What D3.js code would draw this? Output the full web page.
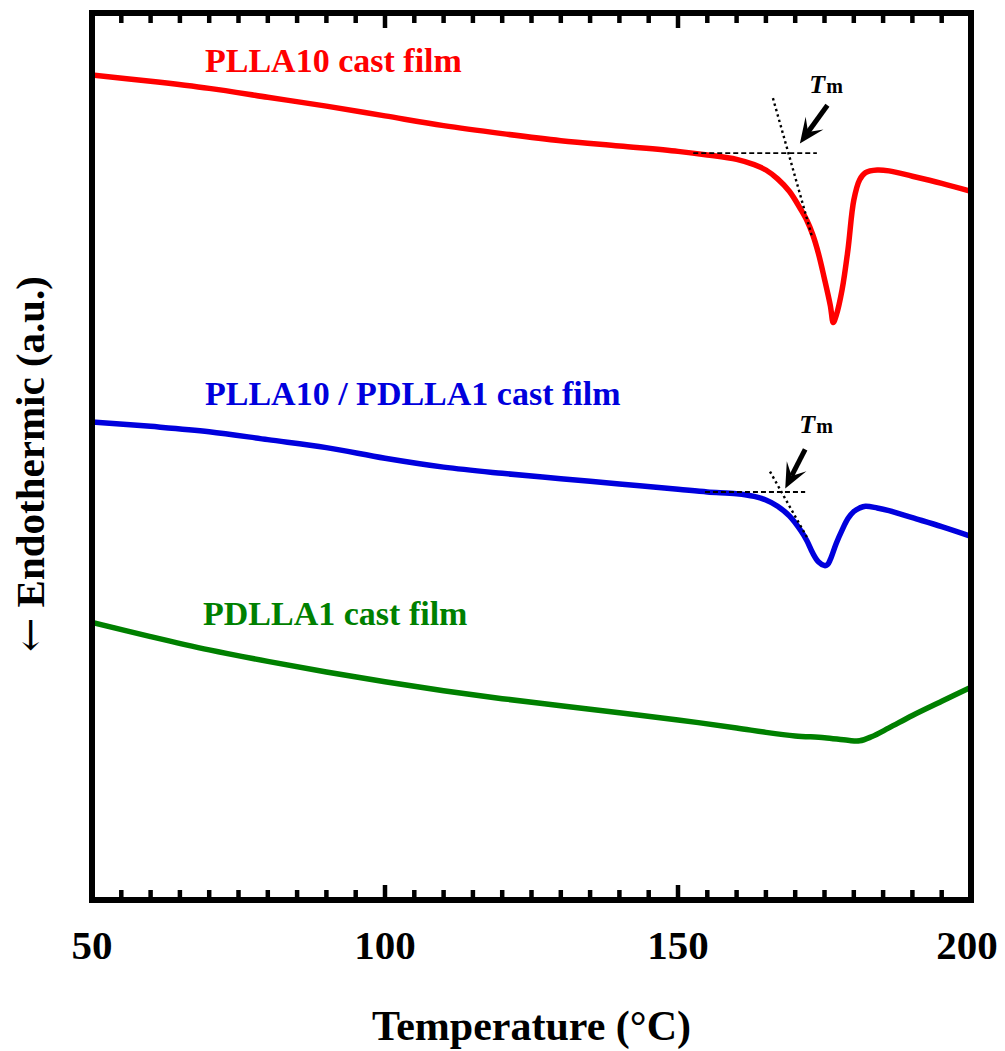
<!DOCTYPE html>
<html>
<head>
<meta charset="utf-8">
<script src="https://cdn.jsdelivr.net/npm/d3@7"></script>
<style>
  html, body { margin: 0; padding: 0; background: #fff; }
  svg { display: block; }
  text { font-family: "Liberation Serif", "Times New Roman", serif; font-weight: bold; }
</style>
</head>
<body>
<svg id="chart" width="1005" height="1051"></svg>
<script>
// DSC heating traces, heat flow in arbitrary units (endotherm downward)
const temperature = [50, 60, 70, 80, 90, 100, 110, 120, 130, 140, 150, 155, 160, 163, 165, 167, 169, 171, 172, 173, 174, 175, 176, 176.5, 177, 178, 179, 180, 181, 182, 184, 186, 190, 195, 200];

const plla10 = [93.0, 92.3, 91.5, 90.5, 89.5, 88.4, 87.3, 86.4, 85.6, 85.0, 84.4, 84.0, 83.5, 82.9, 82.3, 81.3, 79.9, 77.8, 76.6, 75.0, 72.8, 70.0, 67.0, 65.1, 65.9, 68.8, 73.3, 78.9, 81.2, 82.0, 82.3, 82.2, 81.6, 80.8, 79.9];

const blendTemperature = [50, 60, 70, 80, 90, 100, 110, 120, 130, 140, 150, 155, 160, 163, 165, 167, 169, 171, 172, 173, 174, 175, 175.5, 176, 177, 178, 179, 180, 181, 182, 184, 186, 190, 195, 200];
const plla10Pdlla1 = [53.9, 53.4, 52.8, 51.9, 51.0, 49.8, 48.8, 48.1, 47.5, 46.9, 46.3, 46.0, 45.8, 45.5, 45.1, 44.4, 43.3, 41.6, 40.5, 39.1, 38.1, 37.7, 37.8, 38.4, 40.2, 41.7, 43.0, 43.8, 44.2, 44.4, 44.2, 43.9, 43.1, 42.1, 41.0];

const pdllaTemperature = [50, 60, 70, 80, 90, 100, 110, 120, 130, 140, 150, 160, 165, 170, 175, 179, 181, 183, 186, 190, 195, 200];
const pdlla1 = [31.3, 29.7, 28.2, 26.9, 25.7, 24.6, 23.6, 22.7, 21.9, 21.1, 20.3, 19.4, 18.9, 18.5, 18.3, 18.0, 17.95, 18.4, 19.4, 20.8, 22.4, 24.0];

const seriesNames = ["PLLA10 cast film", "PLLA10 / PDLLA1 cast film", "PDLLA1 cast film"];
const seriesColors = ["#ff0000", "#0000dd", "#008000"];

const majorTicks = [50, 100, 150, 200];
const minorTicks = d3.range(50, 201, 5);

// Onset construction lines: extrapolated baseline and leading-edge tangent
const plla10Baseline = [[152.6, 84.2], [173.7, 84.2]];
const plla10Tangent = [[166.2, 90.4], [172.9, 74.7]];
const plla10Arrow = [[175.5, 89.6], [170.8, 85.3]];
const plla10TmLabel = [172.4, 91.0];

const blendBaseline = [[154.6, 46.0], [171.7, 46.0]];
const blendTangent = [[165.7, 48.3], [172.0, 40.9]];
const blendArrow = [[171.7, 50.8], [168.3, 46.4]];
const blendTmLabel = [170.7, 52.7];

// ---------------------------------------------------------------
const svg = d3.select("#chart");
const mLeft = 92, mRight = 971, mTop = 13, mBottom = 900;

const x = d3.scaleLinear().domain([50, 200]).range([mLeft, mRight]);
const y = d3.scaleLinear().domain([0, 100]).range([mBottom, mTop]);

const line = d3.line()
  .x(d => x(d[0]))
  .y(d => y(d[1]))
  .curve(d3.curveCatmullRom.alpha(0.5));

const traces = [
  d3.zip(temperature, plla10),
  d3.zip(blendTemperature, plla10Pdlla1),
  d3.zip(pdllaTemperature, pdlla1)
];

const plot = svg.append("g");
plot.append("defs").append("clipPath").attr("id", "clip")
  .append("rect").attr("x", mLeft).attr("y", mTop)
  .attr("width", mRight - mLeft).attr("height", mBottom - mTop);

// Curves
plot.append("g").attr("clip-path", "url(#clip)")
  .selectAll("path").data(traces).join("path")
  .attr("d", line)
  .attr("fill", "none")
  .attr("stroke", (d, i) => seriesColors[i])
  .attr("stroke-width", 5.5)
  .attr("stroke-linejoin", "round")
  .attr("stroke-linecap", "butt");

// Construction lines
const guides = plot.append("g").attr("stroke", "#000").attr("fill", "none");
[plla10Baseline, blendBaseline].forEach(seg => {
  guides.append("path").attr("d", d3.line()(seg.map(p => [x(p[0]), y(p[1])])))
    .attr("stroke-width", 1.8).attr("stroke-dasharray", "5,3");
});
[plla10Tangent, blendTangent].forEach(seg => {
  guides.append("path").attr("d", d3.line()(seg.map(p => [x(p[0]), y(p[1])])))
    .attr("stroke-width", 2.4).attr("stroke-dasharray", "2.4,3.2");
});

// Tm arrows with barbed heads
function drawArrow(seg) {
  const x0 = x(seg[0][0]), y0 = y(seg[0][1]);
  const x1 = x(seg[1][0]), y1 = y(seg[1][1]);
  const ang = Math.atan2(y1 - y0, x1 - x0);
  const ux = Math.cos(ang), uy = Math.sin(ang);
  const px = -uy, py = ux;
  const headLen = 25, headW = 11, notch = 14;
  const g = plot.append("g");
  const bx = x1 - ux * notch, by = y1 - uy * notch;
  g.append("line")
    .attr("x1", x0).attr("y1", y0).attr("x2", bx).attr("y2", by)
    .attr("stroke", "#000").attr("stroke-width", 5);
  const pts = [
    [x1, y1],
    [x1 - ux * headLen + px * headW, y1 - uy * headLen + py * headW],
    [bx, by],
    [x1 - ux * headLen - px * headW, y1 - uy * headLen - py * headW]
  ];
  g.append("path").attr("d", "M" + pts.map(p => p.join(",")).join("L") + "Z")
    .attr("fill", "#000");
}
drawArrow(plla10Arrow);
drawArrow(blendArrow);

function drawTm(pos) {
  const t = plot.append("text")
    .attr("x", x(pos[0])).attr("y", y(pos[1]));
  t.append("tspan").text("T").attr("font-style", "italic").attr("font-size", 26);
  t.append("tspan").text("m").attr("font-size", 20).attr("dx", 1);
}
drawTm(plla10TmLabel);
drawTm(blendTmLabel);

// Series labels
const labelPos = [[205, 72], [205, 405], [203, 625]];
plot.selectAll("text.series").data(seriesNames).join("text")
  .attr("class", "series")
  .attr("x", (d, i) => labelPos[i][0])
  .attr("y", (d, i) => labelPos[i][1])
  .attr("fill", (d, i) => seriesColors[i])
  .attr("font-size", 34)
  .text(d => d);

// Frame
svg.append("rect")
  .attr("x", mLeft).attr("y", mTop)
  .attr("width", mRight - mLeft).attr("height", mBottom - mTop)
  .attr("fill", "none").attr("stroke", "#000").attr("stroke-width", 6);

// Inward ticks on bottom and top
const ticks = svg.append("g").attr("stroke", "#000").attr("stroke-width", 4.5);
minorTicks.forEach(t => {
  const len = majorTicks.includes(t) ? 15 : 10;
  ticks.append("line").attr("x1", x(t)).attr("x2", x(t)).attr("y1", mBottom).attr("y2", mBottom - len);
  ticks.append("line").attr("x1", x(t)).attr("x2", x(t)).attr("y1", mTop).attr("y2", mTop + len);
});

// Tick labels
svg.append("g").selectAll("text").data(majorTicks).join("text")
  .attr("x", d => x(d) - (d === 200 ? 4 : 0))
  .attr("y", 959)
  .attr("text-anchor", "middle")
  .attr("font-size", 41)
  .text(d => d);

// Axis titles
svg.append("text")
  .attr("x", (mLeft + mRight) / 2)
  .attr("y", 1040)
  .attr("text-anchor", "middle")
  .attr("font-size", 42)
  .text("Temperature (°C)");

const yTitle = svg.append("text")
  .attr("transform", "translate(44," + 464 + ") rotate(-90)")
  .attr("text-anchor", "middle")
  .attr("font-size", 41);
yTitle.append("tspan").text("←").attr("font-family", "DejaVu Serif").attr("font-weight", "normal");
yTitle.append("tspan").text(" Endothermic (a.u.)");
</script>
</body>
</html>
